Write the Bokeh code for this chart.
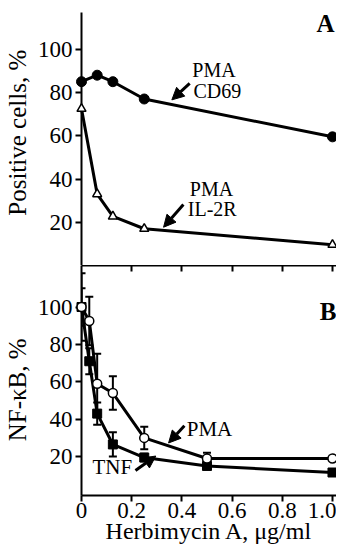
import math
from bokeh.plotting import figure
from bokeh.models import (Range1d, LinearAxis, FixedTicker, Label, Arrow, NormalHead,
                          Whisker, TeeHead, ColumnDataSource)
from bokeh.layouts import column
from bokeh.embed import file_html
from bokeh.resources import INLINE

# ---------------- data ----------------
# Panel A: percentage of positive cells
dose_a = [0, 0.0625, 0.125, 0.25, 1.0]
cd69 = [85, 88, 85, 77, 59.5]
il2r = [72.5, 33, 22.7, 17, 9.6]

# Panel B: NF-kB activity (% of control)
dose_b = [0, 0.031, 0.0625, 0.125, 0.25, 0.5, 1.0]
pma = [100, 92.5, 59, 54, 30, 19, 19]
pma_err = [18, 13, 16, 9, 6, 3, 0]
tnf = [100, 71, 43, 26.5, 19.5, 15, 11.5]
tnf_err = [10, 7, 6, 6.5, 2, 1.5, 0]

y_ticks = [20, 40, 60, 80, 100]
x_ticks = [0, 0.2, 0.4, 0.6, 0.8, 1.0]
x_tick_labels = ["0", "0.2", "0.4", "0.6", "0.8", "1.0"]

FONT = "Liberation Serif"
TICK_SIZE = "23px"

x_range = Range1d(0, 1.016)


def style_y(ax, label):
    ax.ticker = FixedTicker(ticks=y_ticks)
    ax.axis_line_width = 2
    ax.major_tick_line_width = 2
    ax.major_tick_out = 6
    ax.major_tick_in = 0
    ax.minor_tick_line_color = None
    ax.major_label_text_font = FONT
    ax.major_label_text_font_size = TICK_SIZE
    ax.major_label_text_color = "black"
    ax.major_label_standoff = 3
    ax.axis_label = label
    ax.axis_label_text_font = FONT
    ax.axis_label_text_font_size = "25px"
    ax.axis_label_text_font_style = "normal"
    ax.axis_label_text_color = "black"
    ax.axis_label_standoff = 4


# ---------------- Panel A ----------------
pA = figure(width=336, height=265, x_range=x_range, y_range=Range1d(0, 117),
            output_backend="svg", toolbar_location=None, x_axis_location=None,
            min_border_left=79, min_border_right=0, min_border_top=12, min_border_bottom=0)
pA.outline_line_color = None
pA.grid.visible = False
style_y(pA.yaxis[0], "\u00a0\u00a0Positive cells, %")

pA.line(dose_a, cd69, line_width=3, color="black", level="annotation")
pA.scatter(dose_a, cd69, size=10, marker="circle", fill_color="black", line_color="black",
           level="overlay")
pA.line(dose_a, il2r, line_width=3, color="black", level="annotation")
pA.scatter(dose_a, il2r, size=9, marker="triangle", fill_color="white", line_color="black",
           line_width=1.5, level="overlay")

lab_kw = dict(text_font=FONT, text_color="black", text_align="center", text_baseline="middle",
              level="overlay")
pA.add_layout(Label(x=0.528, y=90.6, text="PMA", text_font_size="20px", **lab_kw))
pA.add_layout(Label(x=0.541, y=80.5, text="CD69", text_font_size="20px", **lab_kw))
pA.add_layout(Label(x=0.518, y=35.5, text="PMA", text_font_size="20px", **lab_kw))
pA.add_layout(Label(x=0.521, y=26.2, text="IL-2R", text_font_size="20px", **lab_kw))
pA.add_layout(Label(x=0.972, y=111.9, text="A", text_font_size="25px", text_font_style="bold",
                    **lab_kw))

arrow_kw = dict(line_width=3, line_color="black", level="overlay")
pA.add_layout(Arrow(end=NormalHead(size=12, fill_color="black", line_color="black"),
                    x_start=0.431, y_start=84.2, x_end=0.36, y_end=76.6, **arrow_kw))
pA.add_layout(Arrow(end=NormalHead(size=12, fill_color="black", line_color="black"),
                    x_start=0.406, y_start=28.2, x_end=0.327, y_end=17.7, **arrow_kw))

# ---------------- Panel B ----------------
pB = figure(width=336, height=281, x_range=x_range, y_range=Range1d(-0.8, 122.2),
            output_backend="svg", toolbar_location=None,
            min_border_left=79, min_border_right=0, min_border_top=0, min_border_bottom=0)
pB.outline_line_color = None
pB.grid.visible = False
style_y(pB.yaxis[0], "NF-κB, %\u00a0\u00a0\u00a0")

xb = pB.xaxis[0]
xb.ticker = FixedTicker(ticks=x_ticks)
xb.major_label_overrides = {t: s for t, s in zip(x_ticks, x_tick_labels)}
xb.axis_line_width = 2
xb.major_tick_line_width = 2
xb.major_tick_out = 6
xb.major_tick_in = 0
xb.minor_tick_line_color = None
xb.major_label_text_font = FONT
xb.major_label_text_font_size = TICK_SIZE
xb.major_label_text_color = "black"
xb.major_label_standoff = 1
xb.axis_label = "Herbimycin A, μg/ml"
xb.axis_label_text_font = FONT
xb.axis_label_text_font_size = "24px"
xb.axis_label_text_font_style = "normal"
xb.axis_label_text_color = "black"
xb.axis_label_standoff = -3

top_ticks = x_ticks[1:]
top = LinearAxis(ticker=FixedTicker(ticks=top_ticks))
top.axis_line_width = 2
top.major_tick_line_width = 2
top.major_tick_out = 0
top.major_tick_in = 6
top.minor_tick_line_color = None
top.major_label_overrides = {t: "" for t in top_ticks}
top.major_label_text_font_size = "1px"
top.major_label_standoff = 0
pB.add_layout(top, "above")


def whisk(xs, ys, errs):
    xx, up, lo = [], [], []
    for x, y, e in zip(xs, ys, errs):
        if e > 0:
            xx.append(x)
            up.append(y + e)
            lo.append(y - e)
    src = ColumnDataSource(dict(x=xx, upper=up, lower=lo))
    return Whisker(source=src, base="x", upper="upper", lower="lower", line_width=2,
                   line_color="black", level="annotation",
                   upper_head=TeeHead(size=8, line_width=2, line_color="black"),
                   lower_head=TeeHead(size=8, line_width=2, line_color="black"))


pB.add_layout(whisk(dose_b, tnf, tnf_err))
pB.add_layout(whisk(dose_b, pma, pma_err))

pB.line(dose_b, tnf, line_width=3, color="black", level="annotation")
pB.line(dose_b, pma, line_width=3, color="black", level="annotation")
pB.scatter(dose_b, tnf, size=9, marker="square", fill_color="black", line_color="black",
           level="overlay")
pB.scatter(dose_b, pma, size=9, marker="circle", fill_color="white", line_color="black",
           line_width=1.5, level="overlay")

pB.add_layout(Label(x=0.51, y=34.6, text="PMA", text_font_size="21px", **lab_kw))
pB.add_layout(Label(x=0.123, y=14.6, text="TNF", text_font_size="21px", **lab_kw))
pB.add_layout(Label(x=0.982, y=97.7, text="B", text_font_size="25px", text_font_style="bold",
                    **lab_kw))
pB.add_layout(Arrow(end=NormalHead(size=12, fill_color="black", line_color="black"),
                    x_start=0.41, y_start=36.5, x_end=0.347, y_end=27.3, **arrow_kw))
pB.add_layout(Arrow(end=NormalHead(size=12, fill_color="black", line_color="black"),
                    x_start=0.215, y_start=12.6, x_end=0.296, y_end=20.3, **arrow_kw))

layout = column(pA, pB, spacing=0)
open("out.html", "w").write(file_html(layout, INLINE))
